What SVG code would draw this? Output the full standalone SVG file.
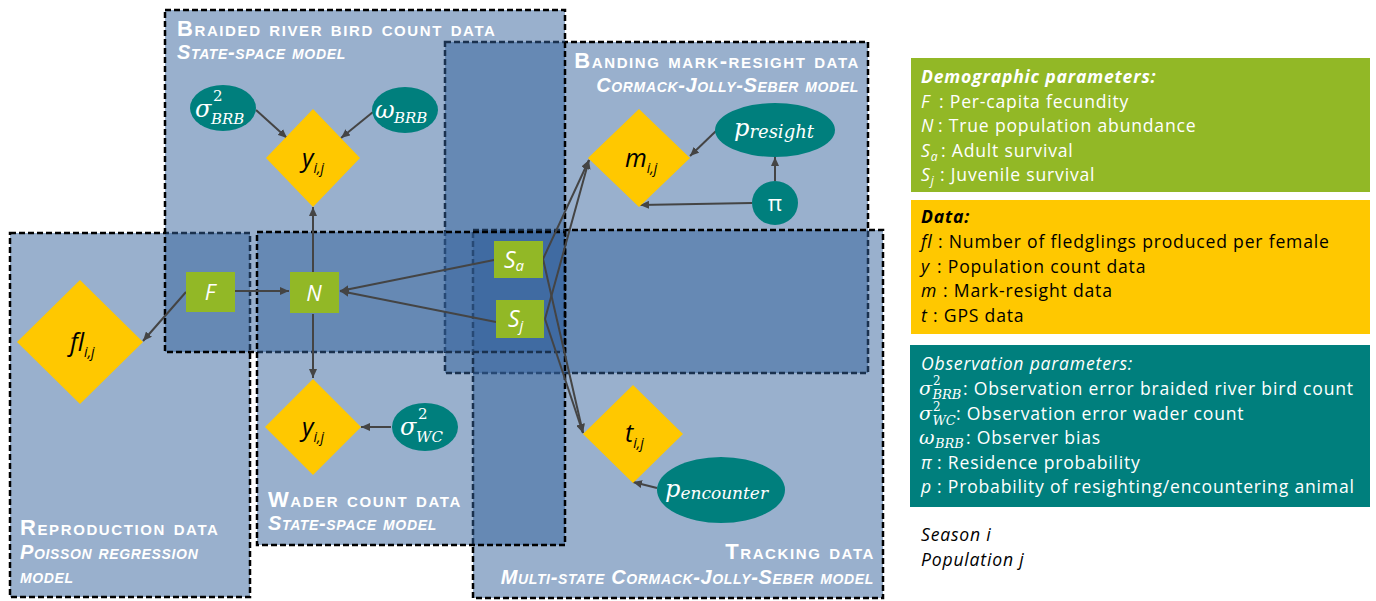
<svg xmlns="http://www.w3.org/2000/svg" width="1376" height="601" viewBox="0 0 1376 601">
<defs>
<style>
.box{fill:#33629B;fill-opacity:0.5;stroke:#000;stroke-width:2.5;stroke-dasharray:6 3}
.ttl{font-family:"Liberation Sans",Arial,sans-serif;font-weight:bold;fill:#fff;font-variant:small-caps;font-size:22px;letter-spacing:1.6px}
.sub{font-family:"Liberation Sans",Arial,sans-serif;font-weight:bold;font-style:italic;fill:#fff;font-variant:small-caps;font-size:20px;letter-spacing:0.65px}
.diam{fill:#FFC800}
.grn{fill:#92B826}
.teal{fill:#007F7D}
.lbl{font-family:"Open Sans","Noto Sans",sans-serif;font-style:italic}
.math{font-family:"DejaVu Serif","Liberation Serif",serif;font-style:italic;fill:#fff}
.edge{stroke:#444;stroke-width:2;fill:none;marker-end:url(#ah)}
.leg{font-family:"Open Sans","Noto Sans",sans-serif;font-size:17.6px;letter-spacing:0.8px}
.it{font-style:italic}
.up{font-style:normal}
</style>
<marker id="ah" markerUnits="userSpaceOnUse" markerWidth="9" markerHeight="8" refX="9" refY="4" orient="auto">
<path d="M0,0 L9,4 L0,8 z" fill="#444"/>
</marker>
</defs>
<rect width="1376" height="601" fill="#fff"/>

<!-- data model boxes -->
<g id="box-banding"><rect class="box" x="445" y="42" width="423" height="331"/></g>
<g id="box-tracking"><rect class="box" x="473" y="230" width="410" height="368"/></g>
<g id="box-reproduction"><rect class="box" x="10" y="233" width="240" height="364"/></g>
<g id="box-braided"><rect class="box" x="165" y="10" width="400" height="342"/></g>
<g id="box-wader"><rect class="box" x="257" y="232" width="308" height="313"/></g>

<g id="titles">
<text class="ttl" x="177" y="36">Braided river bird count data</text>
<text class="sub" x="177" y="59">State-space model</text>
<text class="ttl" x="860" y="68" text-anchor="end">Banding mark-resight data</text>
<text class="sub" x="859" y="92" text-anchor="end">Cormack-Jolly-Seber model</text>
<text class="ttl" x="268" y="507">Wader count data</text>
<text class="sub" x="268" y="530">State-space model</text>
<text class="ttl" x="20" y="535">Reproduction data</text>
<text class="sub" x="20" y="559">Poisson regression</text>
<text class="sub" x="20" y="583">model</text>
<text class="ttl" x="875" y="559" text-anchor="end">Tracking data</text>
<text class="sub" x="874" y="584" text-anchor="end">Multi-state Cormack-Jolly-Seber model</text>
</g>

<!-- connectors -->
<g id="connectors">
<line class="edge" x1="256" y1="110" x2="287" y2="138"/>
<line class="edge" x1="373" y1="112" x2="341" y2="138"/>
<line class="edge" x1="313" y1="272" x2="313" y2="207"/>
<line class="edge" x1="235" y1="291" x2="289" y2="291"/>
<line class="edge" x1="186" y1="292" x2="143" y2="341"/>
<line class="edge" x1="494" y1="260" x2="340" y2="291"/>
<line class="edge" x1="496" y1="322" x2="340" y2="291"/>
<line class="edge" x1="313" y1="314" x2="313" y2="378"/>
<line class="edge" x1="543" y1="259" x2="589" y2="160"/>
<line class="edge" x1="545" y1="319" x2="589" y2="160"/>
<line class="edge" x1="543" y1="259" x2="583" y2="433"/>
<line class="edge" x1="545" y1="319" x2="583" y2="433"/>
<line class="edge" x1="716" y1="131" x2="690" y2="156"/>
<line class="edge" x1="775" y1="181" x2="775" y2="157"/>
<line class="edge" x1="752" y1="203" x2="640" y2="205"/>
<line class="edge" x1="391" y1="427" x2="361" y2="427"/>
<line class="edge" x1="657" y1="488" x2="633" y2="482"/>
</g>

<!-- nodes -->
<g id="n-sigma-brb"><ellipse class="teal" cx="223" cy="108" rx="33" ry="23"/>
<text class="math" x="195" y="117" font-size="24">σ<tspan class="up" x="213" y="101" font-size="15">2</tspan><tspan x="211" y="124" font-size="15">BRB</tspan></text></g>
<g id="n-omega-brb"><ellipse class="teal" cx="405" cy="110" rx="33" ry="23"/>
<text class="math" x="375" y="118" font-size="24">ω<tspan x="394" y="123" font-size="15">BRB</tspan></text></g>
<g id="n-y-brb"><polygon class="diam" points="313,109 360,158 313,207 266,158"/>
<text class="lbl" x="302" y="167" font-size="25">y<tspan font-size="14" dy="6">i,j</tspan></text></g>
<g id="n-F"><rect class="grn" x="186" y="272" width="49" height="40"/>
<text class="lbl" x="210" y="300" font-size="22" fill="#fff" text-anchor="middle">F</text></g>
<g id="n-N"><rect class="grn" x="290" y="272" width="49" height="41"/>
<text class="lbl" x="314" y="301" font-size="22" fill="#fff" text-anchor="middle">N</text></g>
<g id="n-Sa"><rect class="grn" x="494" y="241" width="49" height="37"/>
<text class="lbl" x="504" y="268" font-size="23" fill="#fff">S<tspan font-size="15" dy="3">a</tspan></text></g>
<g id="n-Sj"><rect class="grn" x="496" y="300" width="48" height="38"/>
<text class="lbl" x="508" y="327" font-size="23" fill="#fff">S<tspan font-size="15" dy="4">j</tspan></text></g>
<g id="n-fl"><polygon class="diam" points="80,280 143,342 80,404 17,342"/>
<text class="lbl" x="70" y="351" font-size="25">fl<tspan font-size="14" dy="6">i,j</tspan></text></g>
<g id="n-y-wc"><polygon class="diam" points="313,379 361,427 313,475 265,427"/>
<text class="lbl" x="302" y="436" font-size="25">y<tspan font-size="14" dy="6">i,j</tspan></text></g>
<g id="n-sigma-wc"><ellipse class="teal" cx="425" cy="427" rx="33" ry="24"/>
<text class="math" x="400" y="435" font-size="24">σ<tspan class="up" x="418" y="419" font-size="15">2</tspan><tspan x="416" y="442" font-size="15">WC</tspan></text></g>
<g id="n-m"><polygon class="diam" points="639,109 690,158 639,207 588,158"/>
<text class="lbl" x="625" y="167" font-size="25">m<tspan font-size="14" dy="6">i,j</tspan></text></g>
<g id="n-presight"><ellipse class="teal" cx="775" cy="130" rx="60" ry="27"/>
<text class="math" x="734" y="136" font-size="24">p<tspan font-size="18" dy="2">resight</tspan></text></g>
<g id="n-pi"><ellipse class="teal" cx="775" cy="203" rx="23" ry="22"/>
<text x="775" y="211" font-size="22" fill="#fff" font-family="Open Sans, sans-serif" text-anchor="middle">π</text></g>
<g id="n-t"><polygon class="diam" points="633,385 683,434 633,483 583,434"/>
<text class="lbl" x="625" y="442" font-size="25">t<tspan font-size="14" dy="6">i,j</tspan></text></g>
<g id="n-pencounter"><ellipse class="teal" cx="721" cy="490" rx="64" ry="33"/>
<text class="math" x="665" y="497" font-size="24">p<tspan font-size="17" dy="2">encounter</tspan></text></g>

<!-- legend -->
<g id="legend-demographic">
<rect class="grn" x="911" y="58" width="459" height="134"/>
<text class="leg" fill="#fff" x="921" y="83" font-weight="bold" font-style="italic">Demographic parameters:</text>
<text class="leg" fill="#fff" x="921" y="107.5"><tspan class="it">F</tspan><tspan x="939">: Per-capita fecundity</tspan></text>
<text class="leg" fill="#fff" x="921" y="132"><tspan class="it">N</tspan><tspan x="938">: True population abundance</tspan></text>
<text class="leg" fill="#fff" x="921" y="156.5"><tspan class="it">S<tspan font-size="12" dy="4">a</tspan></tspan><tspan x="941" dy="-4">: Adult survival</tspan></text>
<text class="leg" fill="#fff" x="921" y="181"><tspan class="it">S<tspan font-size="12" dy="4">j</tspan></tspan><tspan x="940" dy="-4">: Juvenile survival</tspan></text>
</g>
<g id="legend-data">
<rect class="diam" x="911" y="200" width="459" height="134"/>
<text class="leg" fill="#000" x="921" y="223" font-weight="bold" font-style="italic">Data:</text>
<text class="leg" fill="#000" x="921" y="248"><tspan class="it">fl</tspan><tspan x="938">: Number of fledglings produced per female</tspan></text>
<text class="leg" fill="#000" x="921" y="272.5"><tspan class="it">y</tspan><tspan x="937">: Population count data</tspan></text>
<text class="leg" fill="#000" x="921" y="297"><tspan class="it">m</tspan><tspan x="943">: Mark-resight data</tspan></text>
<text class="leg" fill="#000" x="921" y="321.5"><tspan class="it">t</tspan><tspan x="933">: GPS data</tspan></text>
</g>
<g id="legend-observation">
<rect class="teal" x="910" y="345" width="460" height="162"/>
<text class="leg" fill="#fff" x="921" y="370" font-style="italic">Observation parameters:</text>
<text class="leg" fill="#fff" x="919" y="395"><tspan class="math" font-size="19" letter-spacing="0">σ</tspan><tspan class="math up" x="933" y="385" font-size="12" letter-spacing="0">2</tspan><tspan class="math" x="932.5" y="399" font-size="13" letter-spacing="0">BRB</tspan><tspan x="963" y="395">: Observation error braided river bird count</tspan></text>
<text class="leg" fill="#fff" x="919" y="419.5"><tspan class="math" font-size="19" letter-spacing="0">σ</tspan><tspan class="math up" x="933" y="411" font-size="12" letter-spacing="0">2</tspan><tspan class="math" x="932.5" y="424.5" font-size="13" letter-spacing="0">WC</tspan><tspan x="956" y="419.5">: Observation error wader count</tspan></text>
<text class="leg" fill="#fff" x="919" y="444"><tspan class="math" font-size="19" letter-spacing="0">ω</tspan><tspan class="math" x="935" y="448" font-size="13" letter-spacing="0">BRB</tspan><tspan x="966" y="444">: Observer bias</tspan></text>
<text class="leg" fill="#fff" x="921" y="468.5"><tspan class="it">π</tspan><tspan x="937">: Residence probability</tspan></text>
<text class="leg" fill="#fff" x="921" y="493"><tspan class="it">p</tspan><tspan x="937">: Probability of resighting/encountering animal</tspan></text>
</g>
<g id="legend-indices">
<text class="leg" fill="#000" x="921" y="541" font-style="italic">Season i</text>
<text class="leg" fill="#000" x="921" y="565.5" font-style="italic">Population j</text>
</g>
</svg>
